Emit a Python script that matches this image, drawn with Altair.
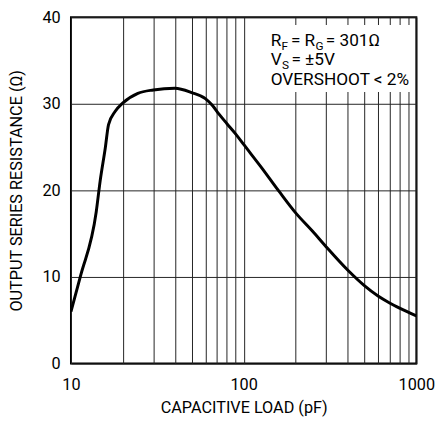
import altair as alt
import pandas as pd

# Curve (capacitive load in pF, series resistance in ohms)
cap_pf = [10, 11.35, 14, 14.76, 15.8, 16.5, 18, 20, 24.4, 30, 40, 50, 60, 66, 72, 80, 90, 100, 125, 160, 200, 250, 300, 400, 500, 600, 700, 800, 1000]
r_ohm = [6.0, 10.1, 17.5, 21.1, 24.9, 27.6, 29.1, 30.1, 31.2, 31.6, 31.8, 31.3, 30.6, 29.8, 28.8, 27.7, 26.5, 25.3, 22.8, 19.9, 17.4, 15.3, 13.5, 10.8, 9.0, 7.8, 7.0, 6.4, 5.5]

x_grid = [10, 20, 30, 40, 50, 60, 70, 80, 90, 100, 200, 300, 400, 500, 600, 700, 800, 900, 1000]
x_labels = [10, 100, 1000]
y_ticks = [0, 10, 20, 30, 40]

x_title = "CAPACITIVE LOAD (pF)"
y_title = "OUTPUT SERIES RESISTANCE (Ω)"
note_line1 = ["R", "F", "= R", "G", "= 301Ω"]
note_line2 = ["V", "S", "= ±5V"]
note_line3 = "OVERSHOOT < 2%"

FONT = "Roboto, Liberation Sans, sans-serif"
FS = 16.5
NS = 17.5
SUB = 12

W, H = 351, 352

df = pd.DataFrame({"cap": cap_pf, "r": r_ohm})

label_expr = " || ".join(f"datum.value == {v}" for v in x_labels)

base = alt.Chart(df)

curve = base.mark_line(color="black", strokeWidth=3, interpolate="monotone", clip=True).encode(
    x=alt.X(
        "cap:Q",
        scale=alt.Scale(type="log", domain=[10, 1000], nice=False),
        axis=alt.Axis(
            values=x_grid,
            labelExpr=f"({label_expr}) ? format(datum.value, 'd') : ''",
            grid=True, gridColor="#222", gridWidth=1, gridOpacity=1,
            ticks=False, tickSize=0, domain=False,
            labelFont=FONT, labelFontSize=FS, labelColor="black",
            labelPadding=26, labelBaseline="alphabetic",
            labelOverlap=False, labelFlush=False, labelBound=False,
            title=x_title, titleFont=FONT, titleFontSize=FS, titleFontWeight="normal",
            titleColor="black", titleBaseline="alphabetic", titleY=50, titleX=W / 2,
            titleAlign="center",
        ),
    ),
    y=alt.Y(
        "r:Q",
        scale=alt.Scale(domain=[0, 40], nice=False),
        axis=alt.Axis(
            values=y_ticks,
            grid=True, gridColor="#222", gridWidth=1, gridOpacity=1,
            ticks=False, tickSize=0, domain=False,
            labelFont=FONT, labelFontSize=FS, labelColor="black",
            labelPadding=11, labelBaseline="middle",
            labelOverlap=False, labelFlush=False, labelBound=False,
            title=y_title, titleFont=FONT, titleFontSize=FS, titleFontWeight="normal",
            titleColor="black", titleBaseline="alphabetic", titleAngle=-90,
            titleX=-50, titleY=H / 2, titleAlign="center",
        ),
    ),
)

box = base.mark_rect(fill="white", stroke=None).encode(
    x=alt.value(198), x2=alt.value(349), y=alt.value(8), y2=alt.value(76)
)

def seg(text, x, y, size):
    return alt.Chart(pd.DataFrame({"t": [text]})).mark_text(
        align="left", baseline="alphabetic", font=FONT, fontSize=size, color="black"
    ).encode(text="t:N", x=alt.value(x), y=alt.value(y))

notes = [
    seg(note_line1[0], 203, 29, NS),
    seg(note_line1[1], 214, 33, SUB),
    seg(note_line1[2], 223.5, 29, NS),
    seg(note_line1[3], 248.5, 33, SUB),
    seg(note_line1[4], 259, 29, NS),
    seg(note_line2[0], 203, 49, NS),
    seg(note_line2[1], 214.5, 53, SUB),
    seg(note_line2[2], 224, 49, NS),
    seg(note_line3, 203, 69, NS),
]

chart = alt.layer(curve, box, *notes).properties(
    width=W, height=H,
    autosize=alt.AutoSizeParams(type="none"),
    padding={"left": 64, "top": 6, "right": 22, "bottom": 52},
).configure_view(stroke="black", strokeWidth=2)

chart.save("out.html", embed_options={"renderer": "svg", "actions": False})
